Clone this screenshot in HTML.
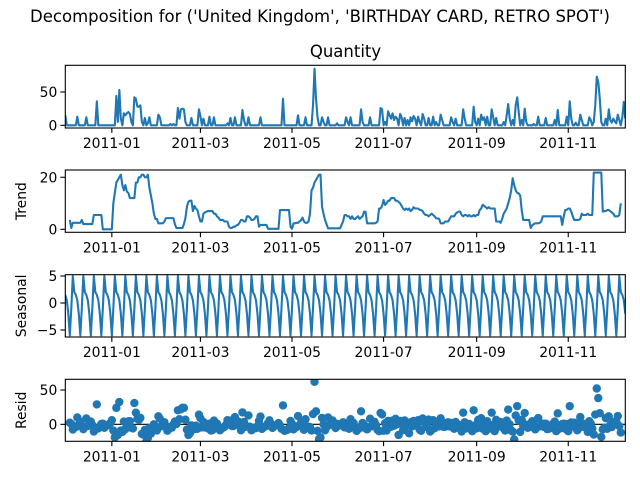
<!DOCTYPE html>
<html><head><meta charset="utf-8">
<style>
html,body{margin:0;padding:0;background:#fff;}
svg{display:block;font-family:"DejaVu Sans","Liberation Sans",sans-serif;}
</style></head>
<body>
<svg id="fig" width="640" height="480" viewBox="0 0 640 480" xmlns="http://www.w3.org/2000/svg">
<rect width="640" height="480" fill="#fff"/>
<text x="320" y="22" text-anchor="middle" font-size="16.5">Decomposition for ('United Kingdom', 'BIRTHDAY CARD, RETRO SPOT')</text>
<text x="345.5" y="57" text-anchor="middle" font-size="16.5">Quantity</text>
</svg>
<script>
// Daily data starting 2010-12-01 (day 0) through 2011-12-09 (day 373)
const quantity = [
15,0,0,0,0,0,0,0,13,0,0,0,0,0,12,0,0,0,0,0,
0,36,0,0,0,0,0,0,0,0,0,0,0,0,44,5,53,10,0,18,
15,18,20,17,5,0,42,40,28,28,30,5,0,11,0,3,12,0,0,0,
0,0,16,12,0,0,0,0,0,0,2,0,2,0,0,26,10,24,25,24,
5,0,0,0,11,0,0,0,0,24,14,0,10,0,0,0,13,0,0,12,
0,0,0,0,0,0,0,0,3,0,11,0,0,12,0,0,0,0,23,8,
0,0,12,0,0,0,0,0,0,0,12,0,0,0,0,0,0,0,0,0,
0,0,0,0,0,40,0,0,0,0,0,0,0,0,0,15,0,0,0,0,
12,0,0,0,0,30,85,40,12,0,0,12,5,0,0,12,0,0,0,0,
0,3,0,0,0,0,0,12,5,0,12,0,0,0,0,0,0,24,5,0,
0,0,0,12,0,0,0,0,0,0,26,24,0,5,0,21,15,10,18,8,
13,10,0,17,12,0,11,0,8,0,12,6,14,10,0,13,5,0,17,10,
0,0,11,0,0,13,0,5,0,0,16,8,0,0,0,0,0,12,5,0,
10,0,0,0,0,24,10,0,0,0,0,0,28,5,0,10,0,16,8,12,
0,13,0,0,24,12,0,11,0,0,0,0,5,0,15,32,10,0,8,0,
30,42,20,0,8,0,25,5,0,0,0,0,2,0,0,13,0,0,0,0,
11,0,0,0,0,0,8,0,23,0,0,0,0,0,13,0,36,10,0,0,
4,0,0,16,8,0,0,0,0,12,8,0,5,30,73,65,40,5,0,0,
10,0,24,8,4,10,6,3,16,8,0,12,35,10];
const trend = [
null,null,null,3.6,0.5,2.5,2.5,2.5,2.5,2.5,2.5,3.6,2,2,2,2,2,2,2,5.5,
5.5,5.5,5.5,5.5,5.5,0,0,0,0,0,0,0,10,14,18,19,20,21,17,15,
17,14.5,14,12,12,12,12,18,18,20,20,21,21,20,20,21,16,13,10,6,
4,4,2.3,2.3,2.3,2.3,3,4.3,4.3,4.3,4.3,4.3,4.3,2,0.5,0.5,0.5,0.5,0.5,2,
4.3,8.7,10.6,11,11,7,9,8,7.4,5,3,3,6,6.5,6.8,7,7,7,7,6,
6,5,4.5,3.6,3.6,3.6,3,3,3,1,0.5,0.5,1,1,1.5,1.7,2.5,3.6,3.6,3,
3,5,5,4.5,3.6,3.6,4,5,5,1,1.7,1.7,1.7,1.7,1.7,0.2,0.2,0.2,0.2,0.2,
0.2,0.2,0.2,7.4,7.4,7.4,7.4,7.4,7.4,7.4,1,0.2,2.3,2.3,2.5,2.5,3,3.5,4.5,3,
2.5,2.5,3,6,15,16,18,19,20,21,21,8.7,6,3.6,2,0.4,0.4,0.4,0.4,0.4,
0.4,0.4,0.4,0.4,1.7,3,5.5,5.5,5,5,4,5,4,4,4.5,5,4,4.5,5,6.8,
6.8,2.3,2.3,2.3,2.3,2.3,2.3,2.5,3,8,8,9,11.3,9.4,10,11,11,12,12,12,
11,11,10.5,10,9,8,7.4,8,7.5,8,7,7.5,8.5,8,8,8,7.5,7.4,7,6,
5.5,5.5,5,5.5,6,5.5,5,4.2,4.2,4,2.3,2.3,2.3,3,3,3,4,5,5,5,
6,6.5,6.8,6.8,5.5,5,5.5,5.5,5,5.5,5,5,5.5,5,5.5,5.5,7.4,8,9.4,9,
8.5,8,8.5,8,8,8,8,3,3,3,2.5,4,6,7,8,10,12,15,19.6,17,
15,14,13.8,13,7.4,3.6,3.6,3.6,3.6,3.6,0.5,1.5,2,2.3,2.3,2.3,2.5,3,5,5,
5,5,5,5,5,5,5,5,5,5,5,1.7,5,7.4,7.5,8,8,6.8,5,3.6,
3.6,3.6,3.6,4,6,5.5,5.5,5.5,6,5.5,5.5,5.5,21.8,21.8,21.8,21.8,21.8,21.8,6.8,7,
7,7.4,7.4,7,6.5,6,5,5,5,5.5,10,null,null,null];
const seasonalWeek = [1.5,0.5,-2,-6,-1,5,2];
const xTickDays = [31,90,151,212,274,335];
const xTickLabels = ["2011-01","2011-03","2011-05","2011-07","2011-09","2011-11"];
const qTicks = [0,50];
const trendTicks = [0,20];
const seasTicks = [-5,0,5];
const residTicks = [0,50];

const NS = "http://www.w3.org/2000/svg";
const svg = document.getElementById('fig');
const X0 = 65.3, X1 = 625.3, DMAX = 373;
const xs = d => X0 + (d / DMAX) * (X1 - X0);
const blue = "#1f77b4";

function mk(tag, attrs, parent) {
  const e = document.createElementNS(NS, tag);
  for (const k in attrs) e.setAttribute(k, attrs[k]);
  (parent || svg).appendChild(e);
  return e;
}
function panel(name, top, bottom, ymin, ymax, ticks, ylabel, ylabelX) {
  const g = mk('g', {});
  
  
  const ys = v => bottom - (v - ymin) / (ymax - ymin) * (bottom - top);
  const clipId = 'clip-' + name;
  const cp = mk('clipPath', {id: clipId}, g);
  mk('rect', {x: X0, y: top, width: X1 - X0, height: bottom - top}, cp);
  const plot = mk('g', {'clip-path': 'url(#' + clipId + ')'}, g);
  
  
  // x ticks
  xTickDays.forEach((d, i) => {
    const x = xs(d);
    const t = mk('line', {x1: x, x2: x, y1: bottom, y2: bottom + 4.9, stroke: '#000', 'stroke-width': 1.1}, g);
    
    
    const lb = mk('text', {x: x, y: bottom + 20, 'text-anchor': 'middle', 'font-size': 13.9}, g);
    
    
    lb.textContent = xTickLabels[i];
  });
  ticks.forEach(v => {
    const y = ys(v);
    const t = mk('line', {x1: X0 - 4.9, x2: X0, y1: y, y2: y, stroke: '#000', 'stroke-width': 1.1}, g);
    
    
    const lb = mk('text', {x: X0 - 8, y: y + 5, 'text-anchor': 'end', 'font-size': 13.9}, g);
    
    
    lb.textContent = v < 0 ? '\u2212' + Math.abs(v) : String(v);
  });
  if (ylabel) {
    const cy = (top + bottom) / 2;
    const yl = mk('text', {x: ylabelX, y: cy, 'text-anchor': 'middle', 'font-size': 13.9, transform: 'rotate(-90 ' + ylabelX + ' ' + cy + ')'}, g);
    
    
    yl.textContent = ylabel;
  }
  const frame = mk('rect', {x: X0, y: top, width: X1 - X0, height: bottom - top, fill: 'none', stroke: '#000', 'stroke-width': 1.1}, g);
  
  
  return {plot, ys};
}
function linePath(plot, ys, vals, name) {
  let d = '', pen = false;
  vals.forEach((v, i) => {
    if (v === null) { pen = false; return; }
    d += (pen ? 'L' : 'M') + xs(i).toFixed(2) + ' ' + ys(v).toFixed(2);
    pen = true;
  });
  const p = mk('path', {d: d, fill: 'none', stroke: blue, 'stroke-width': 2.1, 'stroke-linejoin': 'round'}, plot);
  
  
}

const seasonal = quantity.map((_, i) => seasonalWeek[i % 7]);
const resid = quantity.map((q, i) => trend[i] === null ? null : q - trend[i] - seasonal[i]);

const p1 = panel('quantity', 65.3, 128, -4, 90, qTicks, null, 0);
linePath(p1.plot, p1.ys, quantity, 'quantity-line');
const p2 = panel('trend', 170, 232.3, -1.15, 22.8, trendTicks, 'Trend', 26);
linePath(p2.plot, p2.ys, trend, 'trend-line');
const p3 = panel('seasonal', 274.7, 337, -6.3, 5.24, seasTicks, 'Seasonal', 26);
linePath(p3.plot, p3.ys, seasonal, 'seasonal-line');
const p4 = panel('resid', 379.3, 441.3, -24.7, 65.6, residTicks, 'Resid', 26);
const zl = mk('line', {x1: X0, x2: X1, y1: p4.ys(0), y2: p4.ys(0), stroke: '#000', 'stroke-width': 1.1}, p4.plot);


resid.forEach((r, i) => {
  if (r === null) return;
  const c = mk('circle', {cx: xs(i).toFixed(2), cy: p4.ys(r).toFixed(2), r: 4.2, fill: blue}, p4.plot);
  
  
});
</script>
</body></html>
